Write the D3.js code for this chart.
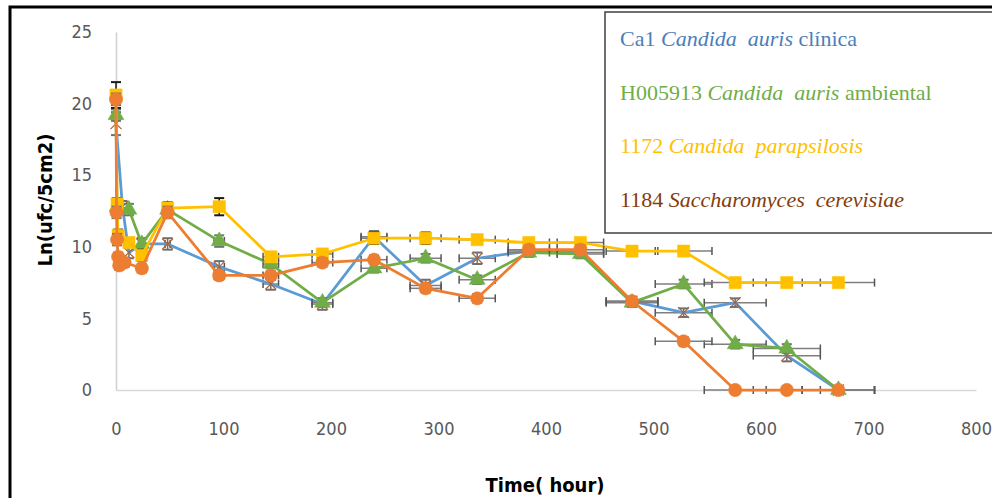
<!DOCTYPE html>
<html>
<head>
<meta charset="utf-8">
<script src="https://cdn.jsdelivr.net/npm/d3@7"></script>
<style>
body { margin: 0; background: #fff; }
svg { display: block; }
.tick text { font-family: 'Liberation Sans Narrow', 'DejaVu Sans Condensed', sans-serif; font-size: 18px; fill: #595959; }
.axis-title { font-family: 'Liberation Sans Narrow', 'DejaVu Sans Condensed', sans-serif; font-size: 20px; font-weight: bold; fill: #000; }
.legend text { font-family: 'Liberation Serif', 'DejaVu Serif', serif; font-size: 22px; }
</style>
</head>
<body>
<svg id="chart" width="992" height="498"></svg>
<script>
// values: time (hours) and Ln(ufc/5cm2)
var ca1Times   = [0, 6, 12, 24, 48, 96, 144, 192, 240, 288, 336, 384, 432, 480, 528, 576, 624, 672];
var ca1Values  = [18.6, 12.8, 9.6, 10.2, 10.2, 8.6, 7.4, 6.0, 10.7, 7.3, 9.2, 9.7, 9.6, 6.2, 5.4, 6.1, 2.4, 0];
var ca1Err     = [0.8, 0.4, 0.4, 0.4, 0.4, 0.4, 0.4, 0.4, 0.4, 0.4, 0.4, 0.3, 0.3, 0.3, 0.3, 0.3, 0.4, 0];

var h005Times  = [0, 1, 12, 24, 48, 96, 144, 192, 240, 288, 336, 384, 432, 480, 528, 576, 624, 672];
var h005Values = [19.2, 12.8, 12.6, 10.2, 12.6, 10.4, 8.8, 6.1, 8.5, 9.2, 7.7, 9.6, 9.5, 6.1, 7.4, 3.2, 2.9, 0];
var h005Err    = [0.4, 0.4, 0.4, 0.4, 0.3, 0.4, 0.3, 0.3, 0.3, 0.3, 0.3, 0.3, 0.3, 0.3, 0.3, 0.3, 0.3, 0];

var cpTimes    = [0, 1, 2, 12, 24, 48, 96, 144, 192, 240, 288, 336, 384, 432, 480, 528, 576, 624, 672];
var cpValues   = [20.6, 13.0, 10.8, 10.3, 9.4, 12.7, 12.8, 9.3, 9.5, 10.6, 10.6, 10.5, 10.3, 10.3, 9.7, 9.7, 7.5, 7.5, 7.5];
var cpErr      = [0.9, 0.4, 0.4, 0.3, 0.4, 0.4, 0.6, 0.3, 0.3, 0.4, 0.4, 0.3, 0.3, 0.3, 0.3, 0.3, 0.2, 0.2, 0.2];

var scTimes    = [0, 0.5, 1, 2, 3, 8, 24, 48, 96, 144, 192, 240, 288, 336, 384, 432, 480, 528, 576, 624, 672];
var scValues   = [20.3, 12.4, 10.5, 9.3, 8.7, 8.9, 8.5, 12.4, 8.0, 8.0, 8.9, 9.1, 7.1, 6.4, 9.8, 9.8, 6.2, 3.4, 0, 0, 0];
var scErr      = [0.4, 0.4, 0.4, 0.3, 0.3, 0.3, 0.3, 0.4, 0.3, 0.3, 0.3, 0.3, 0.3, 0.3, 0.3, 0.3, 0.3, 0.3, 0, 0, 0];

// horizontal error bars are a fixed percentage of the time value
var xErrPct = 0.05;

var xTicks = [0, 100, 200, 300, 400, 500, 600, 700, 800];
var yTicks = [0, 5, 10, 15, 20, 25];

var series = [
  { times: ca1Times,  values: ca1Values,  err: ca1Err,  line: "#5B9BD5", marker: "x",        fill: "#B0602E", errColor: "#6f6f6f" },
  { times: h005Times, values: h005Values, err: h005Err, line: "#70AD47", marker: "triangle", fill: "#70AD47", errColor: "#6f6f6f" },
  { times: cpTimes,   values: cpValues,   err: cpErr,   line: "#FFC000", marker: "square",   fill: "#FFC000", errColor: "#1a1a1a" },
  { times: scTimes,   values: scValues,   err: scErr,   line: "#ED7D31", marker: "circle",   fill: "#ED7D31", errColor: "#6f6f6f" }
];

var legendItems = [
  { color: "#4A7EBB", parts: [["Ca1 ", false], ["Candida  auris", true], [" clínica", false]] },
  { color: "#70AD47", parts: [["H005913 ", false], ["Candida  auris", true], [" ambiental", false]] },
  { color: "#FFC000", parts: [["1172 ", false], ["Candida  parapsilosis", true]] },
  { color: "#843C0C", parts: [["1184 ", false], ["Saccharomyces  cerevisiae", true]] }
];

var svg = d3.select("#chart");

var x = d3.scaleLinear().domain([0, 800]).range([116, 976]);
var y = d3.scaleLinear().domain([0, 25]).range([390, 32]);

// outer frame
svg.append("rect")
  .attr("x", 10).attr("y", 7)
  .attr("width", 1000).attr("height", 520)
  .attr("fill", "none").attr("stroke", "#000").attr("stroke-width", 3);

// axes
var xAxis = svg.append("g")
  .attr("transform", "translate(0," + y(0) + ")")
  .call(d3.axisBottom(x).tickValues(xTicks).tickSize(0).tickPadding(32));
xAxis.select(".domain").attr("stroke", "#d9d9d9").attr("stroke-width", 1.5);

var yAxis = svg.append("g")
  .attr("transform", "translate(" + x(0) + ",0)")
  .call(d3.axisLeft(y).tickValues(yTicks).tickSize(0).tickPadding(24));
yAxis.select(".domain").attr("stroke", "#d0d0d0").attr("stroke-width", 1.5);

svg.append("text").attr("class", "axis-title")
  .attr("x", 545).attr("y", 492).attr("text-anchor", "middle")
  .text("Time( hour)");

svg.append("text").attr("class", "axis-title")
  .attr("transform", "translate(52,200) rotate(-90)")
  .attr("text-anchor", "middle")
  .text("Ln(ufc/5cm2)");

var line = d3.line().x(function(d) { return x(d.t); }).y(function(d) { return y(d.v); });

series.forEach(function(s) {
  var pts = s.times.map(function(t, i) { return { t: t, v: s.values[i], e: s.err[i] }; });
  var g = svg.append("g");

  // error bars
  var eb = g.append("g").attr("stroke", s.errColor).attr("stroke-width", 1.5).attr("fill", "none");
  pts.forEach(function(d) {
    var cx = x(d.t), cy = y(d.v);
    var dx = x(d.t * (1 + xErrPct)) - cx;
    if (dx > 2) {
      eb.append("line").attr("x1", cx - dx).attr("x2", cx + dx).attr("y1", cy).attr("y2", cy).attr("stroke", "#7f7f7f");
      eb.append("line").attr("x1", cx - dx).attr("x2", cx - dx).attr("y1", cy - 4).attr("y2", cy + 4).attr("stroke", "#555");
      eb.append("line").attr("x1", cx + dx).attr("x2", cx + dx).attr("y1", cy - 4).attr("y2", cy + 4).attr("stroke", "#555");
    }
    if (d.e > 0) {
      var top = y(d.v + d.e), bot = y(d.v - d.e);
      eb.append("line").attr("x1", cx).attr("x2", cx).attr("y1", top).attr("y2", bot);
      eb.append("line").attr("x1", cx - 5).attr("x2", cx + 5).attr("y1", top).attr("y2", top).attr("stroke-width", 2);
      eb.append("line").attr("x1", cx - 5).attr("x2", cx + 5).attr("y1", bot).attr("y2", bot).attr("stroke-width", 2);
    }
  });

  g.append("path").datum(pts)
    .attr("d", line)
    .attr("fill", "none").attr("stroke", s.line).attr("stroke-width", 2.75)
    .attr("stroke-linejoin", "round");

  var sym = { circle: d3.symbolCircle, square: d3.symbolSquare, triangle: d3.symbolTriangle, x: d3.symbolX };
  var size = { circle: 140, square: 150, triangle: 110, x: 80 };
  g.selectAll(".mk").data(pts).enter().append("path")
    .attr("transform", function(d) { return "translate(" + x(d.t) + "," + y(d.v) + ")"; })
    .attr("d", d3.symbol().type(sym[s.marker]).size(size[s.marker]))
    .attr("fill", s.marker === "x" ? "none" : s.fill)
    .attr("stroke", s.fill)
    .attr("stroke-width", s.marker === "x" ? 1.2 : 0.5);
});

// legend box
var legend = svg.append("g").attr("class", "legend");
legend.append("rect")
  .attr("x", 605).attr("y", 12).attr("width", 400).attr("height", 221)
  .attr("fill", "#fff").attr("stroke", "#404040").attr("stroke-width", 1.5);

legendItems.forEach(function(item, i) {
  var t = legend.append("text")
    .attr("x", 620).attr("y", 46 + i * 53.5)
    .attr("fill", item.color)
    .attr("xml:space", "preserve");
  item.parts.forEach(function(p) {
    t.append("tspan").attr("font-style", p[1] ? "italic" : "normal").text(p[0]);
  });
});
</script>
</body>
</html>
